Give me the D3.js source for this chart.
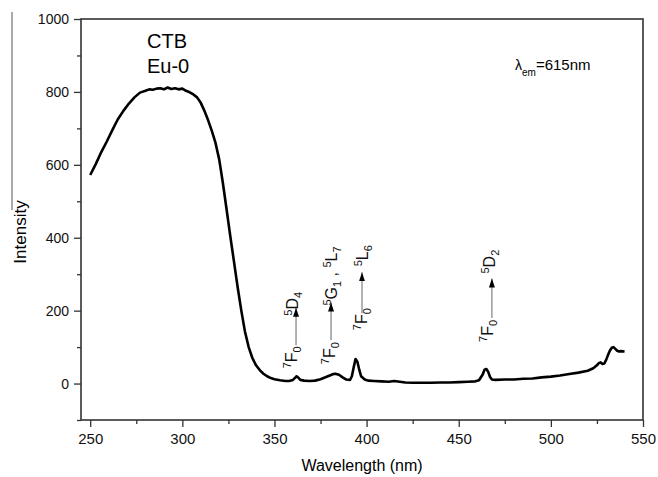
<!DOCTYPE html>
<html>
<head>
<meta charset="utf-8">
<script src="https://cdn.jsdelivr.net/npm/d3@7"></script>
<style>
  body { margin: 0; background: #fff; }
  svg { display: block; font-family: "Liberation Sans", Arial, sans-serif; }
</style>
</head>
<body>
<script>
// excitation spectrum
var wavelength = [250, 253, 256, 259, 262, 265, 268, 271, 274, 277, 280, 282, 284, 286, 288, 290, 292, 294, 296, 298,
	300, 302, 304, 306, 308, 310, 312, 314, 316, 318, 320, 322, 324, 326, 328, 330, 332, 334, 336, 338,
	340, 342, 344, 346, 348, 350, 353, 356, 358, 360, 361, 362, 363, 364, 366, 369, 372, 375, 378, 380,
	382, 383, 385, 387, 389, 391, 392, 393, 394, 395, 396, 397, 399, 401, 404, 408, 412, 415, 418, 421,
	425, 430, 435, 440, 445, 450, 455, 459, 461, 463, 464, 465, 466, 467, 468, 470, 475, 480, 485, 490,
	495, 500, 505, 510, 515, 520, 523, 525, 526, 527, 528, 529, 530, 531, 532, 533, 534, 535, 536, 537,
	538, 540];
var intensity = [572, 602, 635, 664, 695, 725, 748, 768, 785, 798, 803, 807, 806, 809, 810, 807, 812, 808, 810, 807,
	809, 803, 799, 793, 785, 770, 748, 722, 693, 660, 615, 550, 478, 405, 335, 265, 200, 142, 100, 70,
	50, 37, 27, 20, 15, 12, 9, 7, 7, 10, 15, 20, 16, 10, 8, 7, 8, 12, 18, 22,
	26, 27, 24, 17, 11, 10, 20, 45, 67, 60, 38, 20, 11, 8, 7, 6, 5, 7, 5, 3,
	2, 2, 2, 3, 3, 4, 5, 6, 9, 25, 38, 40, 32, 18, 11, 10, 11, 11, 13, 14,
	17, 19, 22, 26, 30, 35, 42, 50, 56, 58, 54, 55, 65, 78, 90, 98, 100, 95, 90, 88,
	89, 88];

var xMajor = [250, 300, 350, 400, 450, 500, 550];
var xMinor = [275, 325, 375, 425, 475, 525];
var yMajor = [0, 200, 400, 600, 800, 1000];
var yMinor = [-100, 100, 300, 500, 700, 900];

// transitions: arrow wavelength, arrow bottom / tip intensity, labels
var transitions = [
	{ lam: 361.7, from: 105, to: 208, lower: [['7', 'sup'], ['F'], ['0', 'sub']], upper: [['5', 'sup'], ['D'], ['4', 'sub']] },
	{ lam: 380.7, from: 119, to: 222, lower: [['7', 'sup'], ['F'], ['0', 'sub']], upper: [['5', 'sup'], ['G'], ['1', 'sub'], [' , '], ['5', 'sup'], ['L'], ['7', 'sub']] },
	{ lam: 397.5, from: 193, to: 305, lower: [['7', 'sup'], ['F'], ['0', 'sub']], upper: [['5', 'sup'], ['L'], ['6', 'sub']] },
	{ lam: 468, from: 180, to: 288, lower: [['7', 'sup'], ['F'], ['0', 'sub']], upper: [['5', 'sup'], ['D'], ['2', 'sub']] }
];
// pixel nudges for the rotated labels
var labelNudge = [
	{ lowDx: 1, lowDy: 1, upDx: 2, upDy: 8 },
	{ lowDx: 4, lowDy: 2, upDx: 6, upDy: 3 },
	{ lowDx: 5, lowDy: -5, upDx: 6, upDy: -6 },
	{ lowDx: 1, lowDy: 2, upDx: 3, upDy: -5 }
];

var W = 658, H = 477;
var plot = { left: 81, right: 643, top: 19, bottom: 420 };

var svg = d3.select('body').append('svg')
	.attr('width', W)
	.attr('height', H);

var x = d3.scaleLinear().domain([245, 550]).range([plot.left, plot.right]);
var y = d3.scaleLinear().domain([-100, 1000]).range([plot.bottom, plot.top]);

// stray scan line at the far left
svg.append('line')
	.attr('x1', 12).attr('x2', 12)
	.attr('y1', 12).attr('y2', 210)
	.style('stroke', '#555')
	.style('stroke-width', 1);

// axes
function styleAxis(g) {
	g.select('.domain').remove();
	g.selectAll('.tick line').style('stroke', '#333').style('stroke-width', 1.3);
	g.selectAll('.tick text').style('fill', '#111').style('font-family', '"Liberation Sans", Arial, sans-serif');
}

svg.append('g')
	.attr('transform', 'translate(0,' + plot.bottom + ')')
	.call(d3.axisBottom(x).tickValues(xMajor).tickFormat(d3.format('d')).tickSizeInner(7).tickSizeOuter(0).tickPadding(6))
	.call(styleAxis)
	.selectAll('.tick text').style('font-size', '15px');

svg.append('g')
	.attr('transform', 'translate(0,' + plot.bottom + ')')
	.call(d3.axisBottom(x).tickValues(xMinor).tickSize(4).tickFormat(''))
	.call(styleAxis);

svg.append('g')
	.attr('transform', 'translate(' + plot.left + ',0)')
	.call(d3.axisLeft(y).tickValues(yMajor).tickFormat(d3.format('d')).tickSizeInner(7).tickSizeOuter(0).tickPadding(5))
	.call(styleAxis)
	.selectAll('.tick text').style('font-size', '14px');

svg.append('g')
	.attr('transform', 'translate(' + plot.left + ',0)')
	.call(d3.axisLeft(y).tickValues(yMinor).tickSize(4).tickFormat(''))
	.call(styleAxis);

// frame
svg.append('rect')
	.attr('x', plot.left)
	.attr('y', plot.top)
	.attr('width', plot.right - plot.left)
	.attr('height', plot.bottom - plot.top)
	.style('fill', 'none')
	.style('stroke', '#333')
	.style('stroke-width', 1.6);

// spectrum
var line = d3.line()
	.x(function(d) { return x(d[0]); })
	.y(function(d) { return y(d[1]); });

svg.append('path')
	.datum(d3.zip(wavelength, intensity))
	.attr('d', line)
	.style('fill', 'none')
	.style('stroke', '#000')
	.style('stroke-width', 2.6)
	.style('stroke-linejoin', 'round');

// arrow head
svg.append('defs').append('marker')
	.attr('id', 'head')
	.attr('markerUnits', 'userSpaceOnUse')
	.attr('markerWidth', 10)
	.attr('markerHeight', 8)
	.attr('refX', 9)
	.attr('refY', 3)
	.attr('orient', 'auto')
	.append('path')
	.attr('d', 'M0,0 L9,3 L0,6 Z')
	.style('fill', '#000');

// rotated label with super/subscripts
function addLabel(parts, sx, sy, anchor) {
	var t = svg.append('text')
		.attr('transform', 'translate(' + sx + ',' + sy + ') rotate(-90)')
		.attr('text-anchor', anchor)
		.style('fill', '#111');
	var shift = 0;
	parts.forEach(function(p) {
		var want = p[1] === 'sup' ? -6 : (p[1] === 'sub' ? 4 : 0);
		t.append('tspan')
			.attr('dy', want - shift)
			.style('font-size', p[1] ? '11px' : '16px')
			.style('white-space', 'pre')
			.text(p[0]);
		shift = want;
	});
}

transitions.forEach(function(d, i) {
	var n = labelNudge[i];
	var ax = x(d.lam);
	svg.append('line')
		.attr('x1', ax).attr('x2', ax)
		.attr('y1', y(d.from)).attr('y2', y(d.to))
		.attr('marker-end', 'url(#head)')
		.style('stroke', '#666')
		.style('stroke-width', 1);
	addLabel(d.lower, ax + n.lowDx, y(d.from) + n.lowDy, 'end');
	addLabel(d.upper, ax + n.upDx, y(d.to) + n.upDy, 'start');
});

// texts
svg.append('text')
	.attr('x', 147).attr('y', 48)
	.style('font-size', '20px')
	.text('CTB');
svg.append('text')
	.attr('x', 147).attr('y', 73)
	.style('font-size', '20px')
	.text('Eu-0');

var lam = svg.append('text')
	.attr('x', 515).attr('y', 70);
lam.append('tspan').style('font-size', '14px').text('λ');
lam.append('tspan').attr('dy', 6).style('font-size', '10px').text('em');
lam.append('tspan').attr('dy', -6).style('font-size', '15px').text('=615nm');

svg.append('text')
	.attr('x', (plot.left + plot.right) / 2)
	.attr('y', 471)
	.attr('text-anchor', 'middle')
	.style('font-size', '16px')
	.text('Wavelength (nm)');

svg.append('text')
	.attr('transform', 'translate(26,232) rotate(-90)')
	.attr('text-anchor', 'middle')
	.style('font-size', '17px')
	.text('Intensity');
</script>
</body>
</html>
